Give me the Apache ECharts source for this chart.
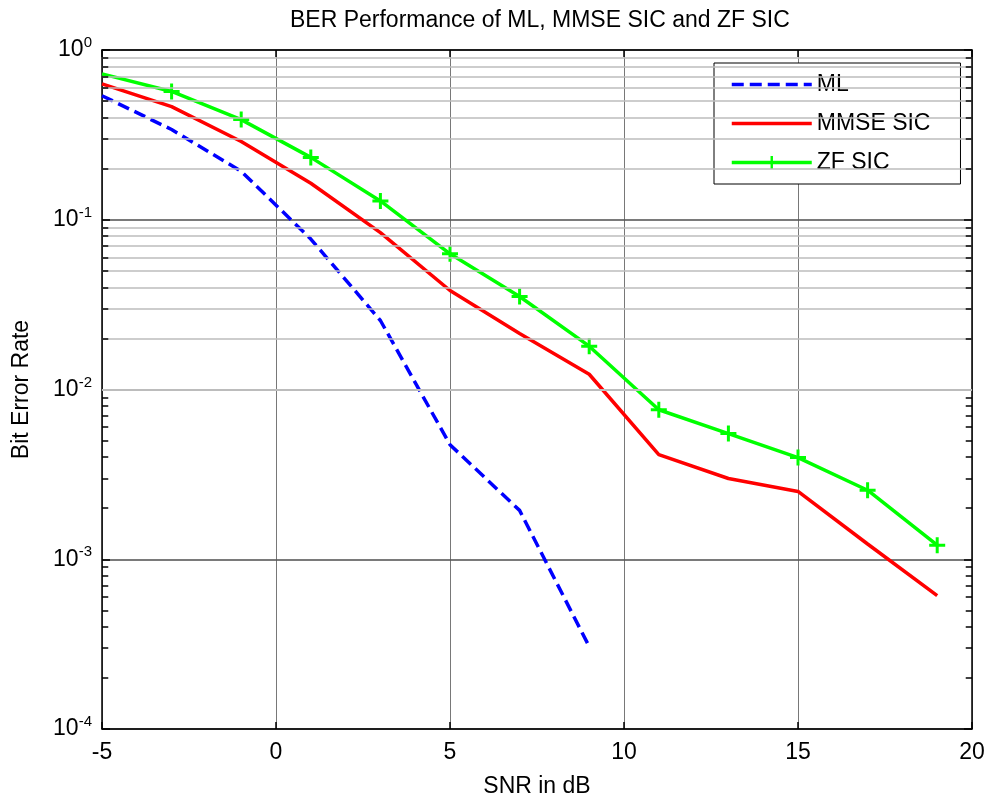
<!DOCTYPE html>
<html>
<head>
    <meta charset="utf-8"/>
    <title>BER Performance</title>
    <script src="https://cdn.jsdelivr.net/npm/echarts@6/dist/echarts.min.js"></script>
</head>
<body style="margin:0;background:#fff">
<div id="berChart" style="width:990px;height:803px"></div>
<script type="text/javascript">
    // SNR points (dB)
    var snrValues = [-5, -3, -1, 1, 3, 5, 7, 9, 11, 13, 15, 17, 19];
    // ML curve stops at 9 dB
    var mlValues = [0.538, 0.340, 0.193, 0.077, 0.0255, 0.00473, 0.00194, 0.000306];
    var mmseSicValues = [0.632, 0.464, 0.289, 0.164, 0.084, 0.0383, 0.0214, 0.0123, 0.00413, 0.00299, 0.00251, 0.00123, 0.00061];
    var zfSicValues = [0.723, 0.57, 0.389, 0.233, 0.129, 0.063, 0.0353, 0.018, 0.0076, 0.0055, 0.00397, 0.00255, 0.00121];
    var decades = [-4, -3, -2, -1];
    var minorSteps = [2, 3, 4, 5, 6, 7, 8, 9];

    var fontFamily = '"Liberation Sans", Arial, sans-serif';
    var plusPath = 'path://M6.5,0H9.5V6.5H16V9.5H9.5V16H6.5V9.5H0V6.5H6.5Z';

    function pairs(xs, ys) {
        var out = [];
        for (var i = 0; i < ys.length; i++) {
            out.push([xs[i], ys[i]]);
        }
        return out;
    }

    // minor grid lines and minor ticks at 2..9 x 10^n
    var minorGrid = [];
    var minorTicks = [];
    decades.forEach(function (d) {
        minorSteps.forEach(function (m) {
            var v = m * Math.pow(10, d);
            minorGrid.push({yAxis: v});
            minorTicks.push([{coord: [-5, v]}, {coord: [-4.82, v]}]);
            minorTicks.push([{coord: [19.82, v]}, {coord: [20, v]}]);
        });
    });

    var zfData = pairs(snrValues, zfSicValues);
    zfData[0] = {value: zfData[0], symbol: 'none'};

    var logLabel = {
        color: '#000',
        margin: 10,
        formatter: function (v) {
            var e = Math.round(Math.log10(v));
            return '{b|10}{s|' + e + '}';
        },
        rich: {
            b: {fontSize: 23, fontFamily: fontFamily, color: '#000'},
            s: {fontSize: 15, fontFamily: fontFamily, color: '#000', padding: [0, 0, 14, 0]}
        }
    };

    var option = {
        backgroundColor: '#fff',
        animation: false,
        title: {
            text: 'BER Performance of ML, MMSE SIC and ZF SIC',
            left: 290,
            top: 9,
            padding: 0,
            textStyle: {fontSize: 23, fontWeight: 'normal', color: '#000', fontFamily: fontFamily}
        },
        legend: {
            orient: 'vertical',
            left: 714,
            top: 63,
            padding: [10, 30, 10, 16],
            itemWidth: 80,
            itemHeight: 16,
            itemGap: 16,
            backgroundColor: '#fff',
            borderColor: '#000',
            borderWidth: 1,
            borderRadius: 0,
            lineStyle: {width: 3.5},
            textStyle: {fontSize: 23, color: '#000', fontFamily: fontFamily},
            data: [
                {name: 'ML', itemStyle: {opacity: 0}},
                {name: 'MMSE SIC', itemStyle: {opacity: 0}},
                {name: 'ZF SIC'}
            ]
        },
        grid: {left: 102, right: 18, top: 50, bottom: 70},
        xAxis: [{
            type: 'value',
            min: -5,
            max: 20,
            interval: 5,
            name: 'SNR in dB',
            nameLocation: 'middle',
            nameGap: 46,
            nameTextStyle: {fontSize: 23, color: '#000', fontFamily: fontFamily},
            axisLine: {onZero: false, lineStyle: {color: '#000', width: 1.5}},
            axisTick: {inside: true, length: 7, lineStyle: {color: '#000', width: 1.5}},
            axisLabel: {fontSize: 23, color: '#000', margin: 12, fontFamily: fontFamily},
            splitLine: {show: true, lineStyle: {color: '#555', width: 0.8}}
        }, {
            type: 'value',
            position: 'top',
            min: -5,
            max: 20,
            interval: 5,
            axisLine: {onZero: false, lineStyle: {color: '#000', width: 1.5}},
            axisTick: {inside: true, length: 7, lineStyle: {color: '#000', width: 1.5}},
            axisLabel: {show: false},
            splitLine: {show: false}
        }],
        yAxis: [{
            type: 'log',
            logBase: 10,
            min: 0.0001,
            max: 1,
            name: 'Bit Error Rate',
            nameLocation: 'middle',
            nameGap: 69,
            nameTextStyle: {fontSize: 23, color: '#000', fontFamily: fontFamily},
            axisLine: {onZero: false, lineStyle: {color: '#000', width: 1.5}},
            axisTick: {inside: true, length: 8, lineStyle: {color: '#000', width: 1.5}},
            axisLabel: logLabel,
            splitLine: {show: true, lineStyle: {color: '#7a7a7a', width: 2}}
        }, {
            type: 'log',
            logBase: 10,
            min: 0.0001,
            max: 1,
            position: 'right',
            axisLine: {onZero: false, lineStyle: {color: '#000', width: 1.5}},
            axisTick: {inside: true, length: 8, lineStyle: {color: '#000', width: 1.5}},
            axisLabel: {show: false},
            splitLine: {show: false}
        }],
        series: [{
            name: 'grid',
            type: 'line',
            data: [],
            z: 1,
            silent: true,
            markLine: {
                silent: true,
                symbol: ['none', 'none'],
                label: {show: false},
                lineStyle: {type: 'solid', color: '#bdbdbd', width: 1.5},
                data: minorGrid
            }
        }, {
            name: 'ticks',
            type: 'line',
            data: [],
            z: 2,
            silent: true,
            markLine: {
                silent: true,
                symbol: ['none', 'none'],
                label: {show: false},
                lineStyle: {type: 'solid', color: '#000', width: 1.5},
                data: minorTicks
            }
        }, {
            name: 'ML',
            type: 'line',
            z: 3,
            data: pairs(snrValues, mlValues),
            symbol: 'none',
            color: '#0000ff',
            lineStyle: {color: '#0000ff', width: 3.5, type: [12, 6]}
        }, {
            name: 'MMSE SIC',
            type: 'line',
            z: 3,
            data: pairs(snrValues, mmseSicValues),
            symbol: 'none',
            color: '#ff0000',
            lineStyle: {color: '#ff0000', width: 3.5}
        }, {
            name: 'ZF SIC',
            type: 'line',
            z: 4,
            data: zfData,
            symbol: plusPath,
            symbolSize: 16,
            showAllSymbol: true,
            color: '#00ff00',
            itemStyle: {color: '#00ff00'},
            lineStyle: {color: '#00ff00', width: 3.5}
        }]
    };

    var berChart = echarts.init(document.getElementById('berChart'));
    berChart.setOption(option);
</script>
</body>
</html>
